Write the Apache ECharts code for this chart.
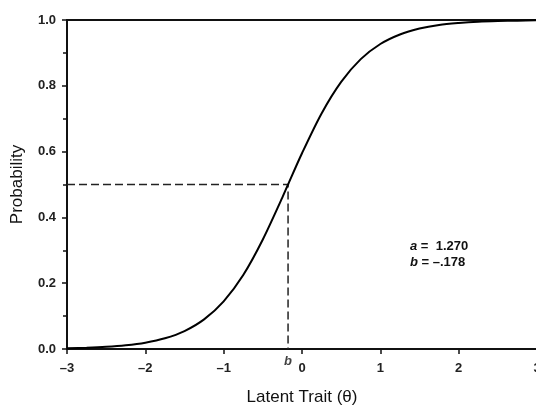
<!DOCTYPE html>
<html><head><meta charset="utf-8">
<script src="https://cdn.jsdelivr.net/npm/echarts@6/dist/echarts.min.js"></script>
<style>html,body{margin:0;padding:0;background:#fff}#c{width:536px;height:407px}</style>
</head><body><div id="c"></div>
<script>
var theta = [-3,-2.75,-2.5,-2.25,-2,-1.75,-1.5,-1.25,-1,-0.75,-0.5,-0.25,-0.178,0,0.25,0.5,0.75,1,1.25,1.5,1.75,2,2.25,2.5,2.75,3];
var prob  = [0.0023,0.0039,0.0066,0.0113,0.0192,0.0325,0.0545,0.090,0.145,0.225,0.333,0.461,0.5,0.595,0.716,0.812,0.881,0.927,0.956,0.974,0.985,0.991,0.995,0.997,0.998,0.999];
var bParam = -0.178;
var halfProb = 0.5;
var xTicks = [-3,-2,-1,0,1,2,3];
var yTicks = [0,0.2,0.4,0.6,0.8,1.0];

var curve = theta.map(function(t,i){return [t, prob[i]];});
var dashed = [[xTicks[0], halfProb],[bParam, halfProb],[bParam, yTicks[0]]];

var chart = echarts.init(document.getElementById('c'));
var font = 'Liberation Sans, Arial, sans-serif';
chart.setOption({
  animation:false,
  grid:{left:67,right:-1,top:20,bottom:58,containLabel:false,outerBoundsMode:'none',
    show:true,borderColor:'#111',borderWidth:2,backgroundColor:'transparent'},
  xAxis:{type:'value',min:xTicks[0],max:xTicks[xTicks.length-1],interval:1,
    name:'Latent Trait (θ)',nameLocation:'middle',nameGap:40,
    nameTextStyle:{fontFamily:font,fontSize:17,color:'#111'},
    axisLine:{onZero:false,lineStyle:{color:'#111',width:2}},
    axisTick:{show:true,length:5,lineStyle:{color:'#111',width:1.5}},
    axisLabel:{fontFamily:font,fontSize:13,fontWeight:'bold',color:'#222',margin:13,
      formatter:function(v){return v<0?'\u2013'+Math.abs(v):String(v);}},
    splitLine:{show:false}},
  yAxis:{type:'value',min:yTicks[0],max:yTicks[yTicks.length-1],interval:0.2,
    name:'Probability',nameLocation:'middle',nameGap:41,nameRotate:90,
    nameTextStyle:{fontFamily:font,fontSize:17,color:'#111'},
    axisLine:{show:true,onZero:false,lineStyle:{color:'#111',width:2}},
    axisTick:{show:true,length:5,lineStyle:{color:'#111',width:1.5}},
    minorTick:{show:true,splitNumber:2,length:4,lineStyle:{color:'#111',width:1.5}},
    axisLabel:{fontFamily:font,fontSize:13,fontWeight:'bold',color:'#222',margin:11,
      formatter:function(v){return v.toFixed(1);}},
    splitLine:{show:false}},
  series:[
    {type:'line',data:dashed,symbol:'none',
      lineStyle:{color:'#222',width:1.5,type:[8,4]},z:2},
    {type:'line',data:curve,symbol:'none',smooth:0.3,
      lineStyle:{color:'#000',width:2},z:3},
    {type:'scatter',data:[[bParam,0]],symbolSize:0,
      label:{show:true,position:'bottom',distance:6,formatter:'b',
        fontFamily:font,fontSize:13,fontStyle:'italic',fontWeight:'bold',color:'#111'},z:4}
  ],
  graphic:[{type:'text',left:410,top:238,
    style:{text:'{i|a} =  1.270\n{i|b} = \u2013.178',
      font:'bold 13px '+font,fill:'#111',lineHeight:16,
      rich:{i:{fontStyle:'italic',fontWeight:'bold',fontFamily:font,fontSize:13,fill:'#111',lineHeight:16}}}}]
});
</script></body></html>
